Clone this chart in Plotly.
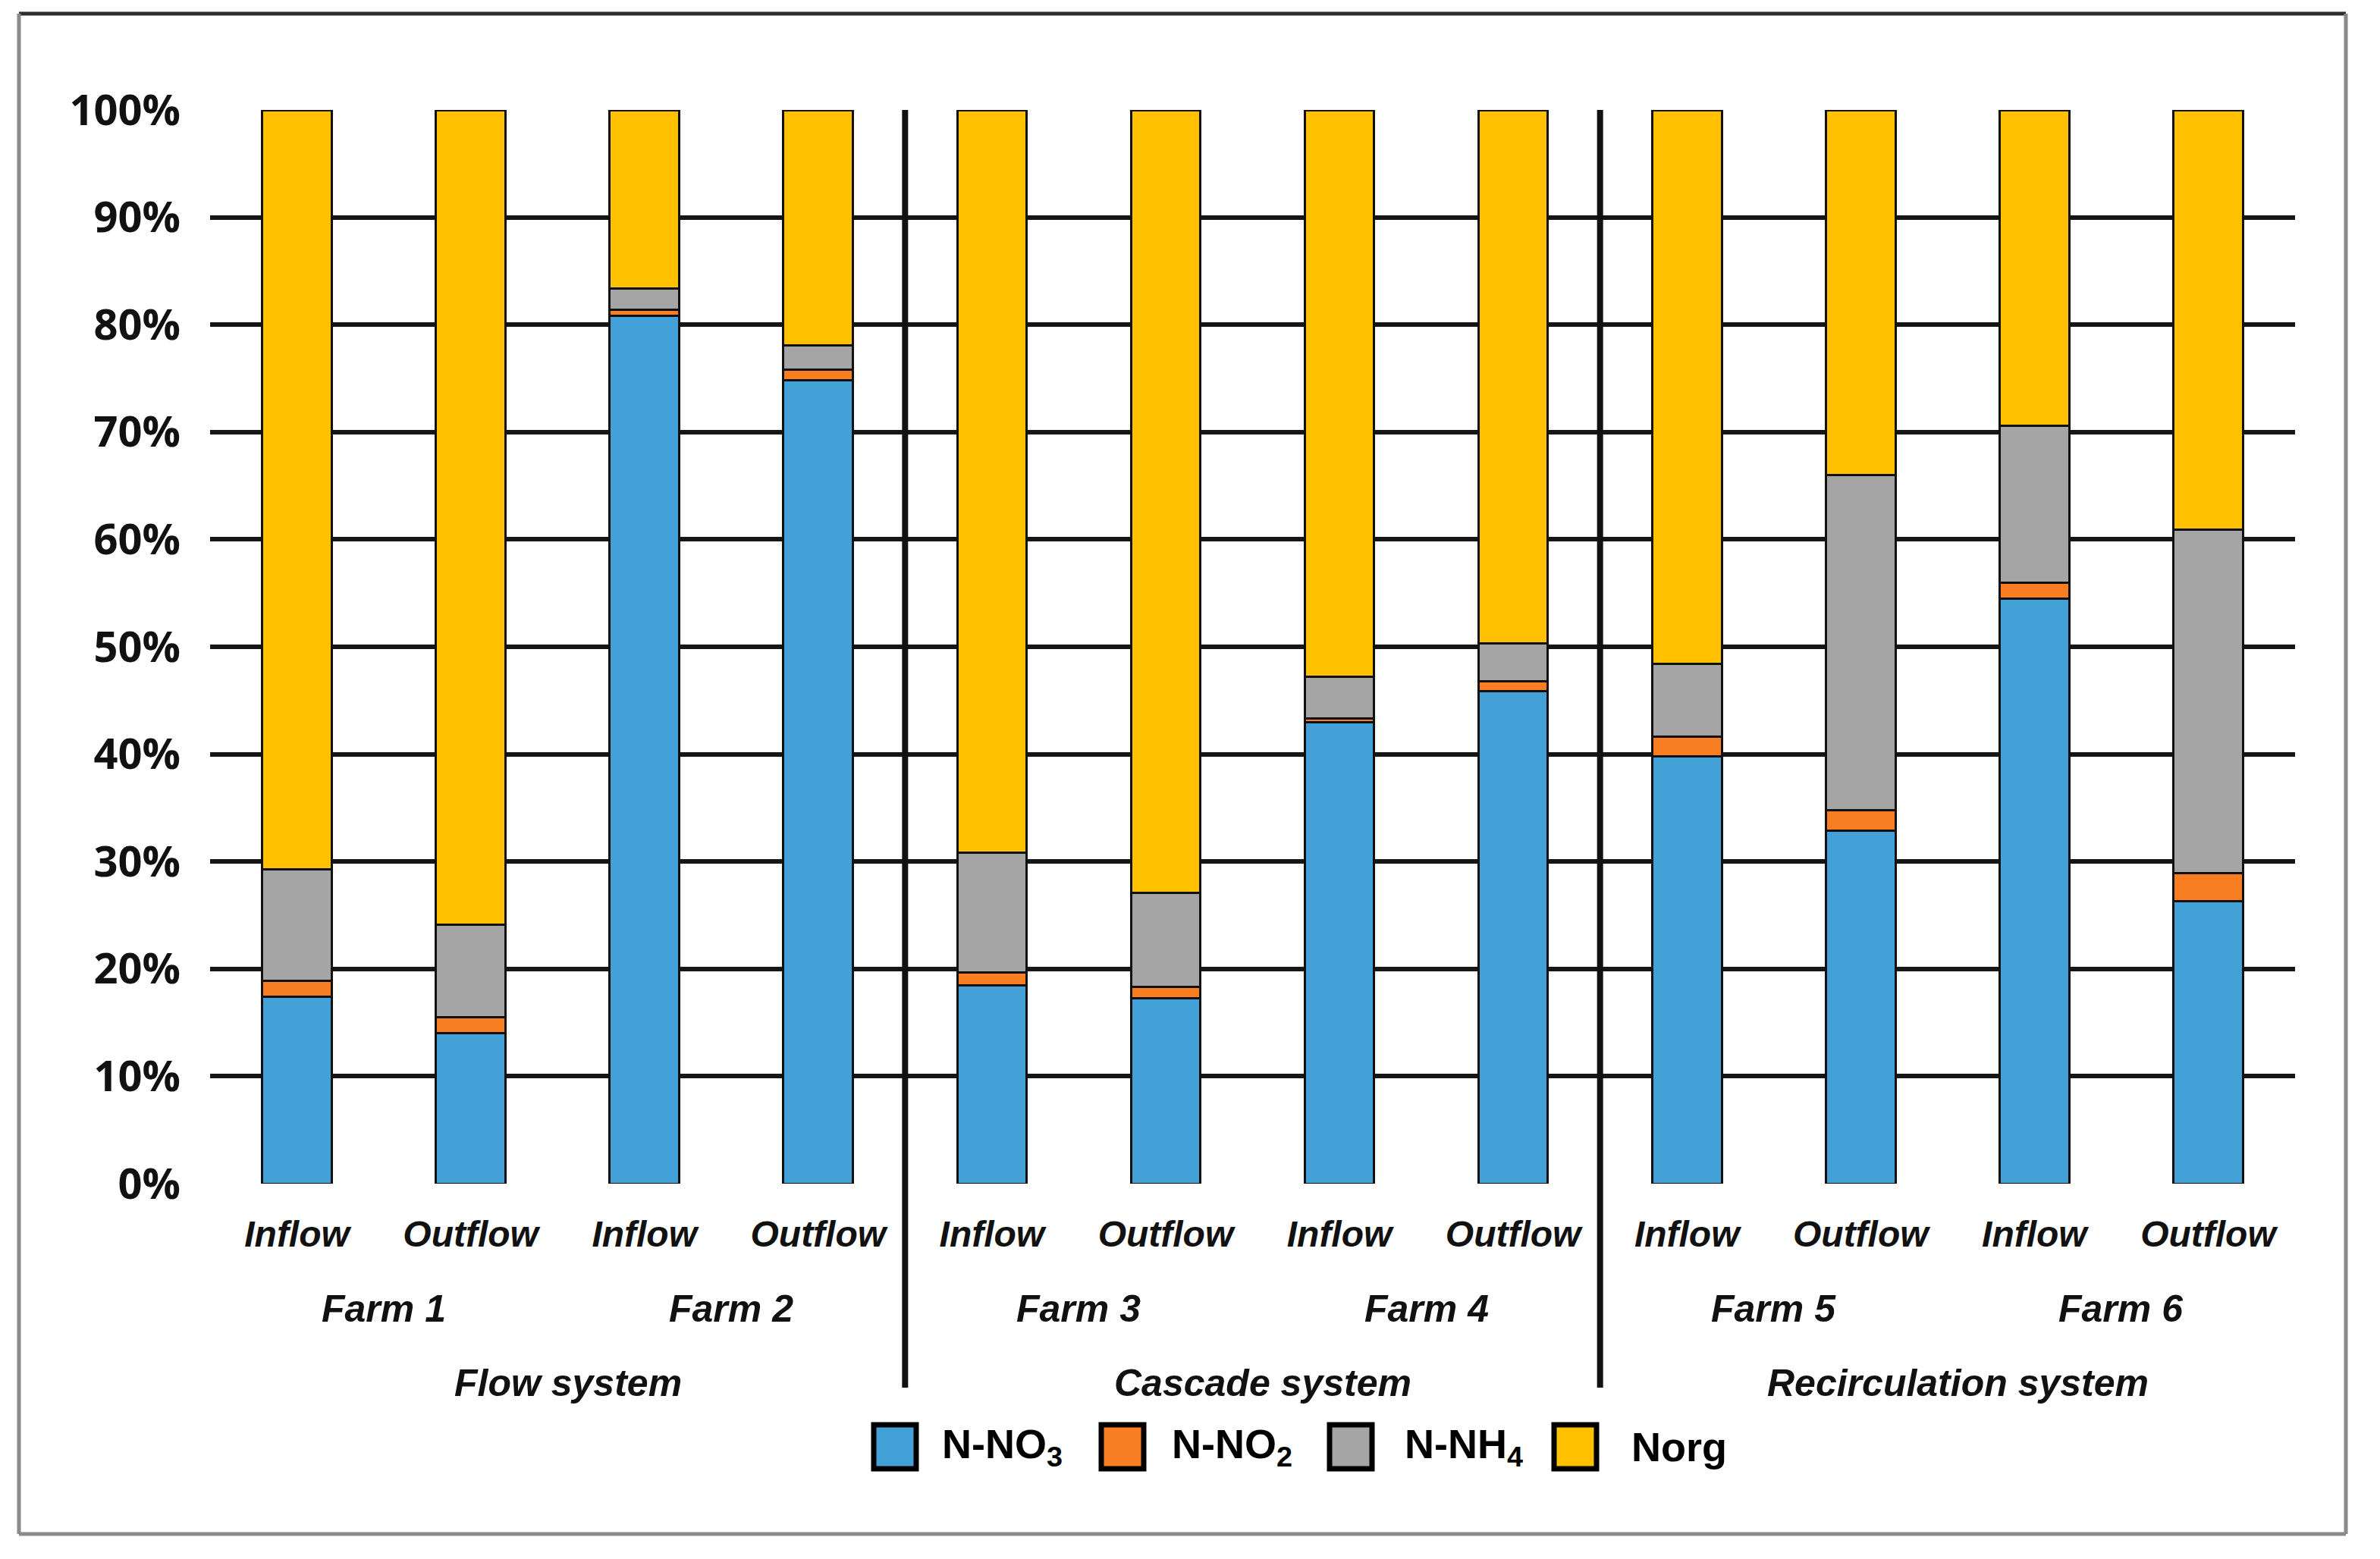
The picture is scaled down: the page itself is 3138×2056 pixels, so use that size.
import plotly.graph_objects as go

# ---------------- data ----------------
flow_labels = ["Inflow", "Outflow", "Inflow", "Outflow", "Inflow", "Outflow",
               "Inflow", "Outflow", "Inflow", "Outflow", "Inflow", "Outflow"]
farms = ["Farm 1", "Farm 2", "Farm 3", "Farm 4", "Farm 5", "Farm 6"]
systems = ["Flow system", "Cascade system", "Recirculation system"]
farms_per_system = [2, 2, 2]

n_no3 = [17.4, 14.0, 80.8, 74.8, 18.5, 17.3, 43.0, 45.9, 39.8, 32.9, 54.5, 26.3]
n_no2 = [1.5, 1.5, 0.6, 1.0, 1.2, 1.0, 0.3, 0.9, 1.8, 1.9, 1.5, 2.6]
n_nh4 = [10.4, 8.6, 2.0, 2.3, 11.1, 8.8, 3.9, 3.5, 6.8, 31.2, 14.6, 32.0]
n_org = [70.7, 75.9, 16.6, 21.9, 69.2, 72.9, 52.8, 49.7, 51.6, 34.0, 29.4, 39.1]

series_names = ["N-NO<sub>3</sub>", "N-NO<sub>2</sub>", "N-NH<sub>4</sub>", "Norg"]
series_values = [n_no3, n_no2, n_nh4, n_org]
series_colors = ["#44A1D8", "#F97E22", "#A5A5A5", "#FFC000"]

y_ticks = [0, 10, 20, 30, 40, 50, 60, 70, 80, 90, 100]

# ---------------- figure ----------------
OFF = 8  # page body margin
W, H = 3138 - 2 * OFF, 2056 - 2 * OFF
L, T = 277 - OFF, 145 - OFF
plot_right, plot_bottom = 3026 - OFF, 1561 - OFF
R, B = W - plot_right, H - plot_bottom
plot_w = plot_right - L
plot_h = plot_bottom - T

x_idx = list(range(len(flow_labels)))

fig = go.Figure()
for name, vals, col in zip(series_names, series_values, series_colors):
    fig.add_trace(go.Bar(
        x=x_idx, y=vals, name=name, width=0.4,
        marker=dict(color=col, line=dict(color="#111111", width=3)),
        showlegend=False,
    ))

def px_to_paper_x(px):
    return (px - OFF - L) / plot_w

def px_to_paper_y(py):
    return (plot_bottom - (py - OFF)) / plot_h

annotations = []
shapes = []

label_font = dict(family="Liberation Sans, Arial", size=50, color="#111111",
                  weight="bold", style="italic")

# farm labels
for i, f in enumerate(farms):
    xc = (2 * i + 2 * i + 1) / 2
    annotations.append(dict(
        x=xc, y=px_to_paper_y(1726), xref="x", yref="paper",
        text=f, showarrow=False, xanchor="center", yanchor="middle",
        font=label_font))

# system labels + separators
start = 0
for k, (s, nf) in enumerate(zip(systems, farms_per_system)):
    n = nf * 2
    xc = start + (n - 1) / 2
    annotations.append(dict(
        x=xc + 0.06, y=px_to_paper_y(1824), xref="x", yref="paper",
        text=s, showarrow=False, xanchor="center", yanchor="middle",
        font=label_font))
    start += n
    if k < len(systems) - 1:
        shapes.append(dict(type="line", xref="x", yref="paper",
                           x0=start - 0.5, x1=start - 0.5,
                           y0=1.0, y1=px_to_paper_y(1830),
                           line=dict(color="#111111", width=8)))

# custom legend
leg_sw_x = [1152, 1452, 1753, 2049]
leg_tx_x = [1240, 1543, 1850, 2149]
sw_w, sw_y0, sw_y1 = 56, 1879, 1937
for name, col, sx, tx in zip(series_names, series_colors, leg_sw_x, leg_tx_x):
    shapes.append(dict(type="rect", xref="paper", yref="paper",
                       x0=px_to_paper_x(sx), x1=px_to_paper_x(sx + sw_w),
                       y0=px_to_paper_y(sw_y1), y1=px_to_paper_y(sw_y0),
                       fillcolor=col, line=dict(color="#000000", width=7)))
    annotations.append(dict(
        x=px_to_paper_x(tx), y=px_to_paper_y(1908), xref="paper", yref="paper",
        text=name, showarrow=False, xanchor="left", yanchor="middle",
        font=dict(family="Liberation Sans, Arial", size=54, color="#000000",
                  weight="bold")))

# outer border
bx0, bx1 = px_to_paper_x(25), px_to_paper_x(3093)
by0, by1 = px_to_paper_y(2023), px_to_paper_y(18)
shapes.append(dict(type="line", xref="paper", yref="paper", x0=bx0, x1=bx1, y0=by1, y1=by1,
                   line=dict(color="#2e2e2e", width=5)))
shapes.append(dict(type="line", xref="paper", yref="paper", x0=bx0, x1=bx1, y0=by0, y1=by0,
                   line=dict(color="#8a8a8a", width=5)))
shapes.append(dict(type="line", xref="paper", yref="paper", x0=bx0, x1=bx0, y0=by0, y1=by1,
                   line=dict(color="#8a8a8a", width=5)))
shapes.append(dict(type="line", xref="paper", yref="paper", x0=bx1, x1=bx1, y0=by0, y1=by1,
                   line=dict(color="#8a8a8a", width=5)))

fig.update_layout(
    width=W, height=H,
    margin=dict(l=L, r=R, t=T, b=B, autoexpand=False),
    barmode="stack",
    bargap=0.6,
    paper_bgcolor="white",
    plot_bgcolor="white",
    showlegend=False,
    annotations=annotations,
    shapes=shapes,
    xaxis=dict(
        range=[-0.5, len(flow_labels) - 0.5],
        tickmode="array", tickvals=x_idx, ticktext=flow_labels,
        tickfont=dict(family="Liberation Sans, Arial", size=48, color="#111111",
                      weight="bold", style="italic"),
        showgrid=False, zeroline=False, showline=False, ticks="",
        ticklabelstandoff=34,
    ),
    yaxis=dict(
        range=[0, 100],
        tickmode="array", tickvals=y_ticks, ticktext=[f"{v}%" for v in y_ticks],
        tickfont=dict(family="Open Sans", size=56, color="#111111", weight="bold"),
        showgrid=True, gridcolor="#161616", gridwidth=6,
        zeroline=False, showline=False, ticks="",
        ticklabelstandoff=38,
    ),
)

fig.write_html("out.html")
